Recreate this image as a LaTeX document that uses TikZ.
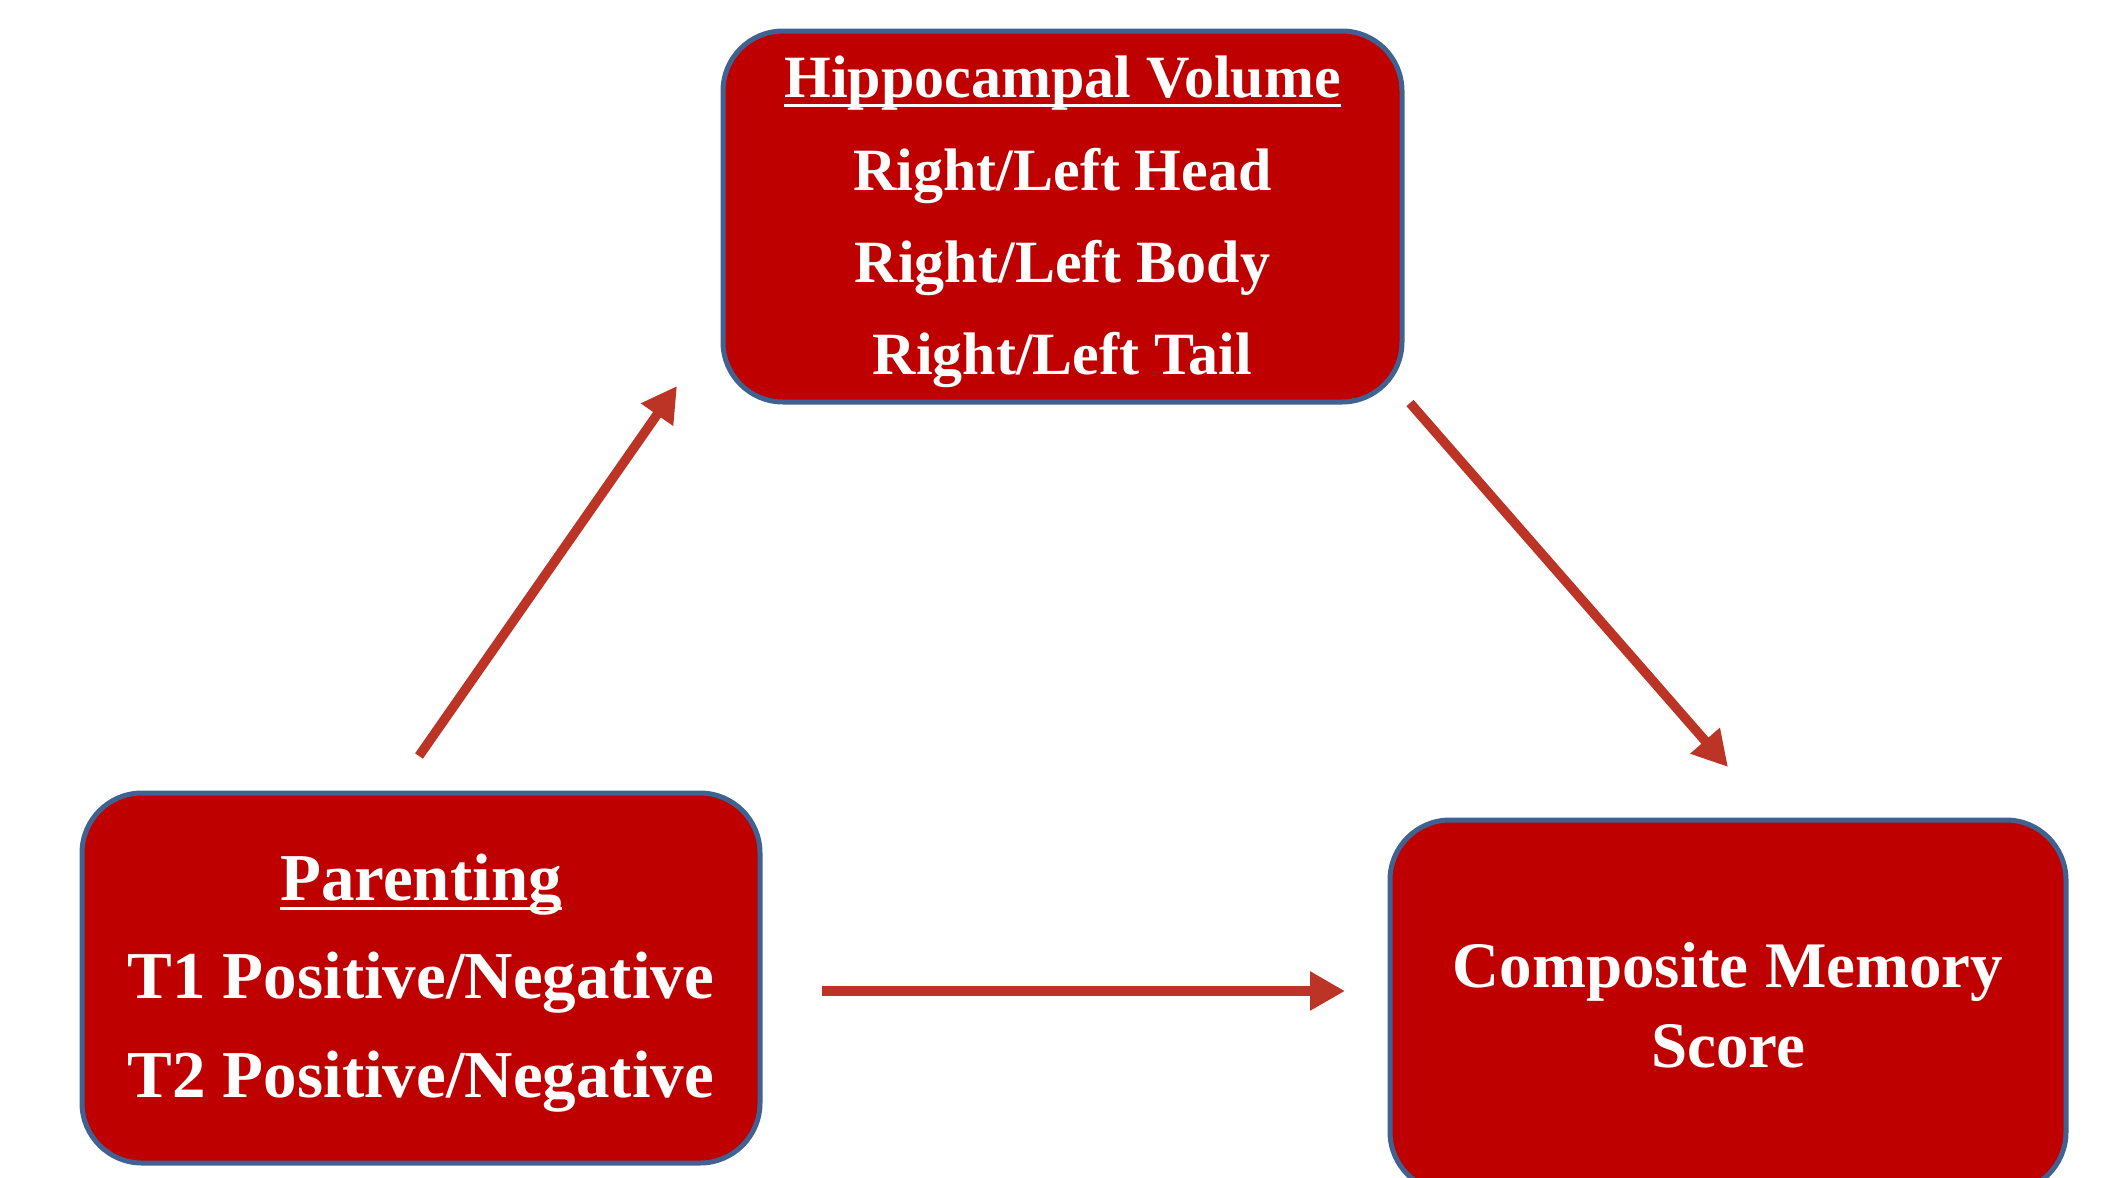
\documentclass[tikz,border=0pt]{standalone}
\usepackage{fontspec}
\setmainfont{Liberation Serif}
\usetikzlibrary{arrows.meta}
\definecolor{boxred}{RGB}{190,0,0}
\definecolor{boxedge}{RGB}{64,98,145}
\definecolor{arrred}{RGB}{188,52,38}
\newlength\myulw
\newcommand\myul[1]{\settowidth\myulw{#1}\rlap{\rule[-10pt]{\myulw}{3.5pt}}#1}
\begin{document}
\begin{tikzpicture}[x=1pt,y=-1pt,
  box/.style={draw=boxedge,line width=5pt,fill=boxred,rounded corners=60pt,inner sep=0pt},
  txt/.style={text=white,anchor=base,inner sep=0pt},
  tA/.style={txt,font=\bfseries\fontsize{60}{72}\selectfont},
  tB/.style={txt,font=\bfseries\fontsize{67}{80}\selectfont},
  tC/.style={txt,font=\bfseries\fontsize{65}{78}\selectfont},
  arr/.style={draw=arrred,line width=9.5pt,-{Triangle[length=35pt,width=37pt]}}]
\useasboundingbox (0,0) rectangle (2105,1178);
\clip (0,0) rectangle (2105,1178);
% boxes
\node[box,minimum width=679pt,minimum height=371pt] (hv) at (1062.5,216.5) {};
\node[box,minimum width=678pt,minimum height=370pt] (par) at (421,978) {};
\node[box,minimum width=676pt,minimum height=372pt] (cms) at (1728,1006) {};
% texts
\node[tA] (hv1) at (1062.5,97) {\myul{Hippocampal Volume}};
\node[tA] (hv2) at (1062.5,190) {Right/Left Head};
\node[tA] (hv3) at (1062.5,282) {Right/Left Body};
\node[tA] (hv4) at (1062.5,374) {Right/Left Tail};
\node[tB] (par1) at (421,900) {\myul{Parenting}};
\node[tB] (par2) at (421,998) {T1 Positive/Negative};
\node[tB] (par3) at (421,1097) {T2 Positive/Negative};
\node[tC] (cms1) at (1728,987) {Composite Memory};
\node[tC] (cms2) at (1728,1067) {Score};
% arrows
\coordinate (a1s) at (419,756);
\coordinate (a1e) at (677,386);
\coordinate (a2s) at (1410,403);
\coordinate (a2e) at (1728,767);
\coordinate (a3s) at (822,991);
\coordinate (a3e) at (1345,991);
\draw[arr] (a1s) -- (a1e);
\draw[arr] (a2s) -- (a2e);
\draw[arr] (a3s) -- (a3e);
\end{tikzpicture}
\end{document}
